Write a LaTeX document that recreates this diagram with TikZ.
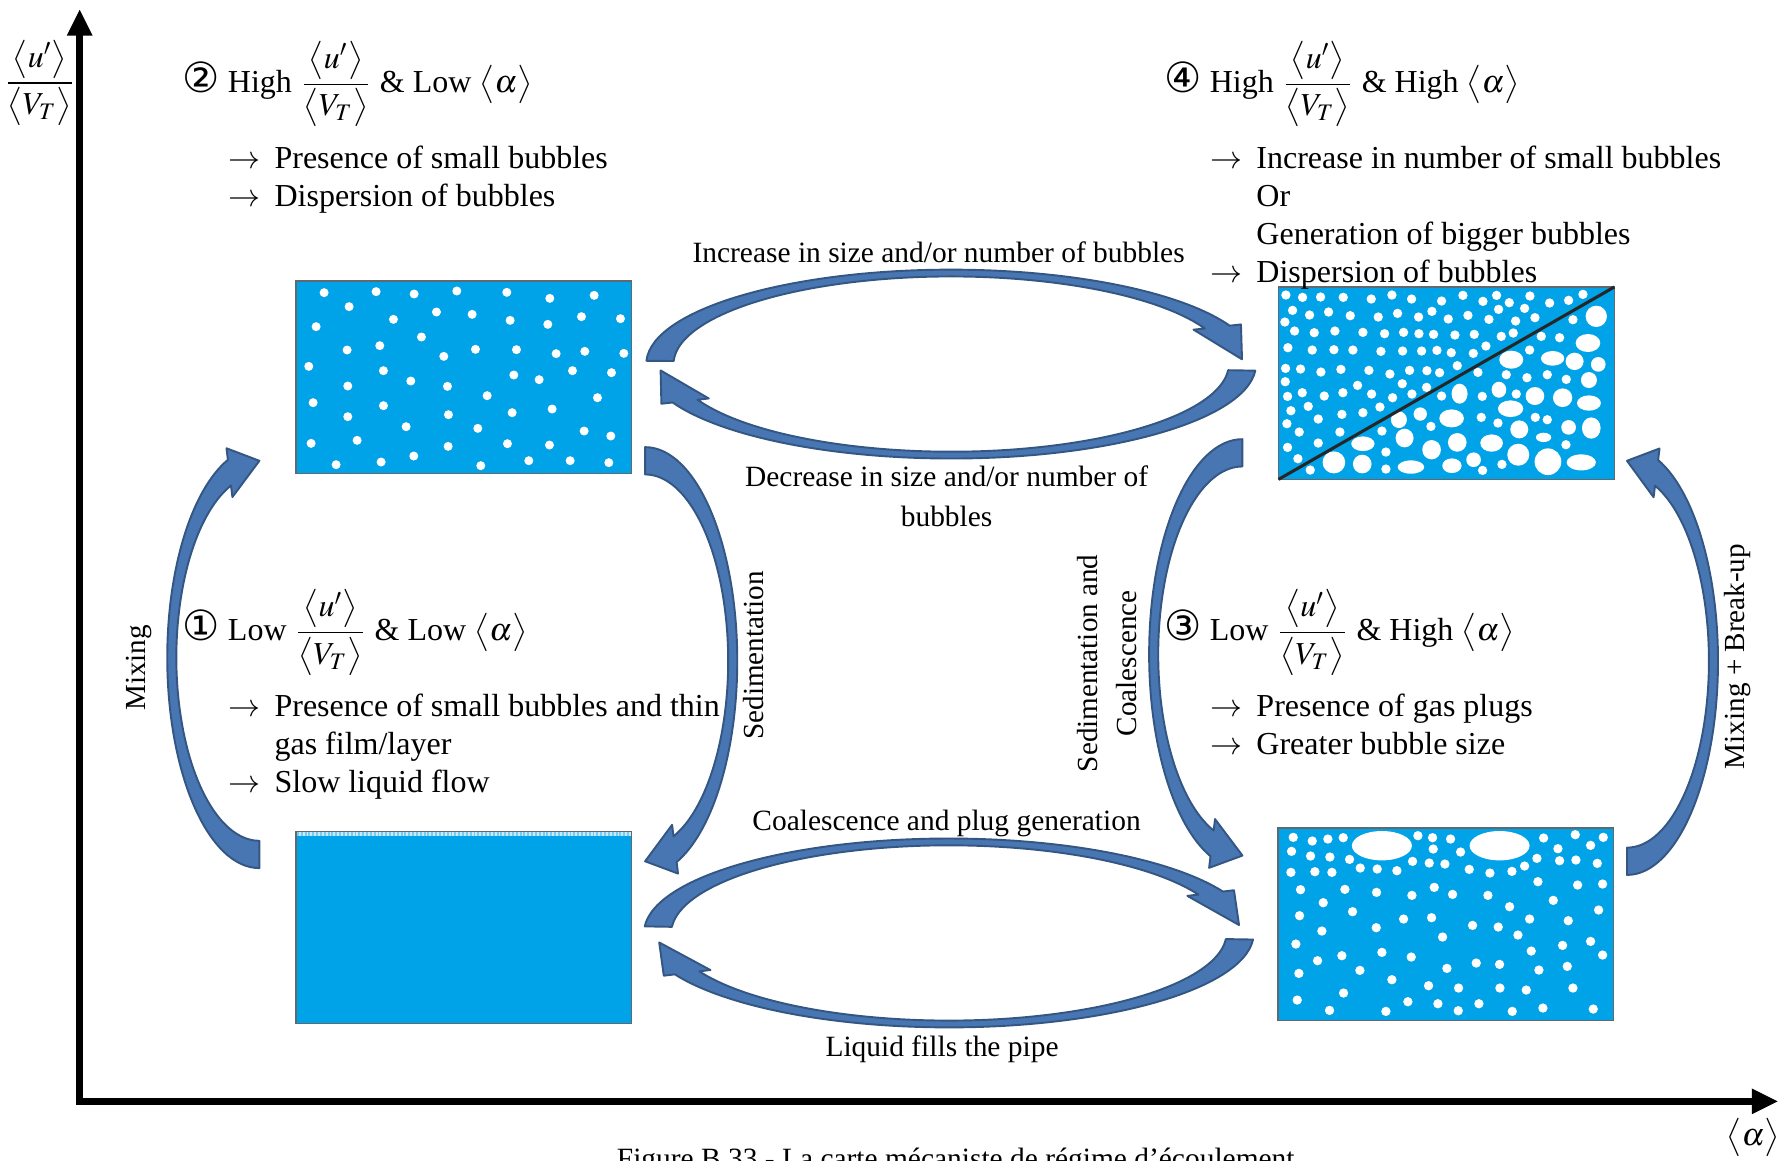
\documentclass[tikz,border=0pt]{standalone}
\usepackage{amsmath}
\usepackage{mathptmx}
\usepackage{fontspec}
\setmainfont{Liberation Serif}
\newfontfamily\circfont{DejaVu Sans}
\usetikzlibrary{arrows.meta,calc}

\definecolor{water}{RGB}{0,162,232}
\definecolor{tankline}{RGB}{96,104,112}
\definecolor{flowfill}{RGB}{72,118,178}
\definecolor{flowline}{RGB}{52,86,130}
\definecolor{film}{RGB}{205,232,246}

\newcommand{\velratio}{\dfrac{\big\langle u'\big\rangle}{\big\langle V_{T}\big\rangle}}
\newcommand{\voidfrac}{\big\langle\alpha\big\rangle}

% curved block arrow laid on an ellipse
% #1,#2 centre  #3,#4 radii of the mid line  #5,#6 half thickness in x and y
% #7 tail angle  #8 angle where the head starts  #9 angle of the tip
\newcommand{\flowarrow}[9]{%
  \coordinate (ho) at ({#1+(#3+#5)*cos(#8)},{#2+(#4+#6)*sin(#8)});
  \coordinate (hi) at ({#1+(#3-#5)*cos(#8)},{#2+(#4-#6)*sin(#8)});
  \coordinate (ht) at ({#1+#3*cos(#9)},{#2+#4*sin(#9)});
  \draw[flow] ({#1+(#3+#5)*cos(#7)},{#2+(#4+#6)*sin(#7)})
    arc[start angle=#7, end angle=#8, x radius=#3+#5, y radius=#4+#6]
    -- ($(ho)!-0.45!(hi)$) -- (ht) -- ($(hi)!-0.45!(ho)$) -- (hi)
    arc[start angle=#8, end angle=#7, x radius=#3-#5, y radius=#4-#6]
    -- cycle;}

\begin{document}
\begin{tikzpicture}[x=0.0125cm, y=0.0125cm,
  tank/.style={draw=tankline, fill=water, line width=0.5pt, inner sep=0pt, outer sep=0pt,
    minimum width=3.6875cm, minimum height=2.1125cm},
  bubble/.style={fill=white},
  flow/.style={fill=flowfill, draw=flowline, line width=0.6pt, line join=round},
  axis/.style={line width=2pt, line join=miter,
    {Triangle[length=0.29cm,width=0.26cm]}-{Triangle[length=0.29cm,width=0.26cm]}},
  regime/.style={anchor=base west, inner sep=0pt, font=\fontsize{10}{12}\selectfont},
  bullets/.style={anchor=base west, inner sep=0pt, font=\fontsize{10}{11.85}\selectfont},
  process/.style={inner sep=0pt, align=center, font=\fontsize{9.2}{12.4}\selectfont},
  sidelabel/.style={rotate=90, inner sep=0pt, align=center, font=\fontsize{9.1}{12.1}\selectfont}]

  \useasboundingbox (0,0) rectangle (1568,1020);

  %% axes
  \coordinate (origin) at (70,52);
  \coordinate (ytip) at (70,1012);
  \coordinate (xtip) at (1563,52);
  \draw[axis] (ytip) -- (origin) -- (xtip);
  \node[inner sep=0pt, font=\fontsize{10}{12}\selectfont] (ylab) at (35,947) {$\velratio$};
  \node[inner sep=0pt, font=\fontsize{10}{12}\selectfont] (xlab) at (1541,20) {$\voidfrac$};

  %% transitions between the four regimes
  % top pair
  \flowarrow{836}{700}{256}{80}{12}{3}{178}{24}{3}
  \flowarrow{836}{700}{256}{80}{12}{3}{-4}{-156}{-176}
  % bottom pair
  \flowarrow{834}{200}{256}{80}{12}{3}{176}{26}{5}
  \flowarrow{834}{200}{256}{80}{12}{3}{-4}{-154}{-174}
  % left and right sides
  \flowarrow{228}{442}{77}{173}{4}{12}{-90}{-250}{-270}
  \flowarrow{567}{439}{77}{176}{4}{12}{90}{-70}{-90}
  \flowarrow{1092}{445}{78}{177}{4}{12}{90}{250}{270}
  \flowarrow{1430}{439}{76}{176}{4}{12}{-90}{70}{90}

  %% pipe sections
  \node[tank] (b2) at (407.5,688.5) {};
  \node[tank] (b4) at (1271.3,683.2) {};
  \node[tank] (b3) at (1270.7,207.7) {};
  \node[tank] (b1) at (407.5,204.8) {};

  % small dispersed bubbles
  \begin{scope}[shift={(b2.north west)}, x=0.00366cm, y=-0.00366cm]
    \foreach \bx/\by in {85/35, 241/32, 355/39, 483/30, 633/34, 762/52, 895/43,
      160/77, 293/115, 422/93, 529/100, 643/118, 756/130, 857/107, 974/113,
      61/137, 377/168, 154/207, 252/194, 444/226, 539/205, 662/206, 781/218, 867/211, 984/217,
      39/256, 263/269, 345/300, 455/316, 654/282, 730/296, 830/269, 947/275,
      156/315, 52/365, 263/374, 574/344, 905/350,
      156/407, 458/401, 649/395, 769/384,
      331/437, 546/442, 865/450, 945/465,
      46/487, 184/478, 457/496, 635/488, 761/492,
      121/551, 256/543, 354/525, 555/554, 699/539, 823/539, 939/545}
      \fill[bubble] (\bx,\by) circle (13.5);
  \end{scope}

  % many small bubbles / bigger bubbles, split by the diagonal
  \begin{scope}[shift={(b4.north west)}, x=0.00366cm, y=-0.00366cm]
    \foreach \bx/\by in {22/24, 72/31, 126/30, 194/31, 278/36, 340/24, 399/36, 489/42, 553/25,
      613/43, 654/25, 692/47, 754/27, 813/48, 870/40, 913/22,
      42/70, 93/84, 150/75, 215/86, 299/90, 357/79, 420/90, 460/73, 509/96, 568/85,
      631/97, 660/67, 711/102, 738/64, 769/92,
      19/105, 48/132, 107/137, 169/132, 253/136, 318/140, 375/136, 421/140, 465/142,
      529/144, 587/142, 668/148, 704/138, 788/148, 843/152, 883/98,
      28/182, 101/189, 166/188, 223/189, 307/193, 372/192, 429/192, 475/190, 518/197,
      584/199, 622/177,
      21/244, 66/246, 127/255, 187/247, 271/250, 334/261, 393/250, 445/251, 483/257, 536/236,
      20/284, 27/328, 71/317, 137/327, 193/317, 237/295, 279/321, 342/332, 371/290,
      400/321, 444/301,
      37/371, 89/358, 119/396, 190/382, 253/377, 304/360,
      25/410, 62/435, 184/435, 119/468, 27/481, 58/515, 95/549,
      753/189, 598/256, 683/263, 745/272, 806/263, 863/277, 611/328, 713/321, 489/327,
      457/418, 608/391, 658/408, 770/391, 806/398, 310/432, 862/473, 322/495, 322/546,
      612/550, 670/532}
      \fill[bubble] (\bx,\by) circle (14);
    \foreach \bx/\by/\rx/\ry in {953/88/32/32, 928/168/37/27, 698/218/36/27, 822/214/35/22,
      888/223/27/26, 959/232/22/22, 931/279/24/24, 543/320/24/30, 661/308/22/24,
      769/327/28/27, 852/332/29/28, 931/348/36/23, 425/381/20/20, 519/394/37/27,
      696/365/38/25, 722/427/27/27, 870/421/22/22, 938/423/28/32, 361/398/24/25,
      378/453/27/28, 459/488/28/29, 536/466/28/28, 639/468/34/26, 795/451/23/14,
      253/470/35/22, 166/526/34/33, 251/531/28/28, 397/540/40/20, 520/536/29/22,
      585/518/22/22, 719/503/33/33, 808/524/40/40, 908/526/44/24}
      \fill[bubble] (\bx,\by) ellipse[x radius=\rx, y radius=\ry];
  \end{scope}
  \draw[line width=0.95pt, black!85] (b4.south west) -- (b4.north east);

  % gas plugs among small bubbles
  \begin{scope}[shift={(b3.north west)}, x=0.00366cm, y=-0.00366cm]
    \fill[bubble] (312,53) ellipse[x radius=90, y radius=44];
    \fill[bubble] (665,53) ellipse[x radius=90, y radius=44];
    \foreach \bx/\by in {46/28, 103/39, 150/33, 196/29, 420/23, 464/29, 518/33, 797/30, 892/20,
      938/52, 976/28,
      41/70, 98/84, 156/87, 215/94, 466/63, 548/72, 840/62, 777/91, 845/98, 894/96, 958/106,
      39/133, 111/131, 162/133, 247/120, 298/123, 357/128, 404/100, 454/105, 501/108,
      574/124, 636/135, 702/130, 740/114,
      68/185, 201/184, 296/193, 402/202, 469/178, 524/199, 630/202, 780/161, 899/171, 974/168,
      136/224, 224/251, 695/236, 826/217, 962/246,
      65/263, 377/273, 461/269, 295/299, 584/292, 661/297, 755/273, 871/278,
      132/309, 494/327, 720/321, 54/348, 854/352, 938/340, 760/369, 974/381,
      119/398, 192/383, 312/373, 400/387, 507/421, 595/405, 665/409, 783/426, 868/415,
      63/436, 246/427, 342/455, 452/473, 542/480, 666/480, 745/486, 885/480,
      58/516, 197/495, 390/521, 480/527, 603/527, 795/540, 946/543,
      155/547, 324/550, 541/548, 703/550}
      \fill[bubble] (\bx,\by) circle (14);
  \end{scope}

  % liquid with a thin gas film on top
  \fill[film] (b1.north west) rectangle ($(b1.north east)+(0,-4.5)$);
  \draw[water!55, line width=1pt, dash pattern=on 0.6pt off 0.6pt]
    ($(b1.north west)+(1,-2.3)$) -- ($(b1.north east)+(-1,-2.3)$);
  \draw[tankline, line width=0.5pt] (b1.south west) rectangle (b1.north east);

  %% regime descriptions
  \node[regime] (hdr2) at (160,939)
    {{\circfont\fontsize{13}{13}\selectfont ②} High $\velratio$ \& Low $\voidfrac$};
  \node[bullets] (list2) at (200,872) {\begin{tabular}[t]{@{}l@{\hspace{4.5pt}}l@{}}
    $\rightarrow$ & Presence of small bubbles\\
    $\rightarrow$ & Dispersion of bubbles
  \end{tabular}};

  \node[regime] (hdr4) at (1023,939)
    {{\circfont\fontsize{13}{13}\selectfont ④} High $\velratio$ \& High $\voidfrac$};
  \node[bullets] (list4) at (1063,872) {\begin{tabular}[t]{@{}l@{\hspace{4.5pt}}l@{}}
    $\rightarrow$ & Increase in number of small bubbles\\
    & Or\\
    & Generation of bigger bubbles\\
    $\rightarrow$ & Dispersion of bubbles
  \end{tabular}};

  \node[regime] (hdr1) at (160,457)
    {{\circfont\fontsize{13}{13}\selectfont ①} Low $\velratio$ \& Low $\voidfrac$};
  \node[bullets] (list1) at (200,390) {\begin{tabular}[t]{@{}l@{\hspace{4.5pt}}l@{}}
    $\rightarrow$ & Presence of small bubbles and thin\\
    & gas film/layer\\
    $\rightarrow$ & Slow liquid flow
  \end{tabular}};

  \node[regime] (hdr3) at (1023,457)
    {{\circfont\fontsize{13}{13}\selectfont ③} Low $\velratio$ \& High $\voidfrac$};
  \node[bullets] (list3) at (1063,390) {\begin{tabular}[t]{@{}l@{\hspace{4.5pt}}l@{}}
    $\rightarrow$ & Presence of gas plugs\\
    $\rightarrow$ & Greater bubble size
  \end{tabular}};

  %% transition labels
  \node[process, anchor=base] (inc) at (825,789) {Increase in size and/or number of bubbles};
  \node[process] (dec) at (832,584) {Decrease in size and/or number of\\bubbles};
  \node[process, anchor=base] (coal) at (832,290) {Coalescence and plug generation};
  \node[process, anchor=base] (refill) at (828,91) {Liquid fills the pipe};

  \node[sidelabel] (mix) at (122,433) {Mixing};
  \node[sidelabel] (sed) at (662,444) {Sedimentation};
  \node[sidelabel] (sedco) at (973,437) {Sedimentation and\\Coalescence};
  \node[sidelabel] (mixbr) at (1527,443) {Mixing + Break-up};

  \node[inner sep=0pt, anchor=base, font=\fontsize{9.2}{11}\selectfont] (cap) at (840,-7)
    {Figure B.33 - La carte mécaniste de régime d'écoulement};
\end{tikzpicture}
\end{document}
